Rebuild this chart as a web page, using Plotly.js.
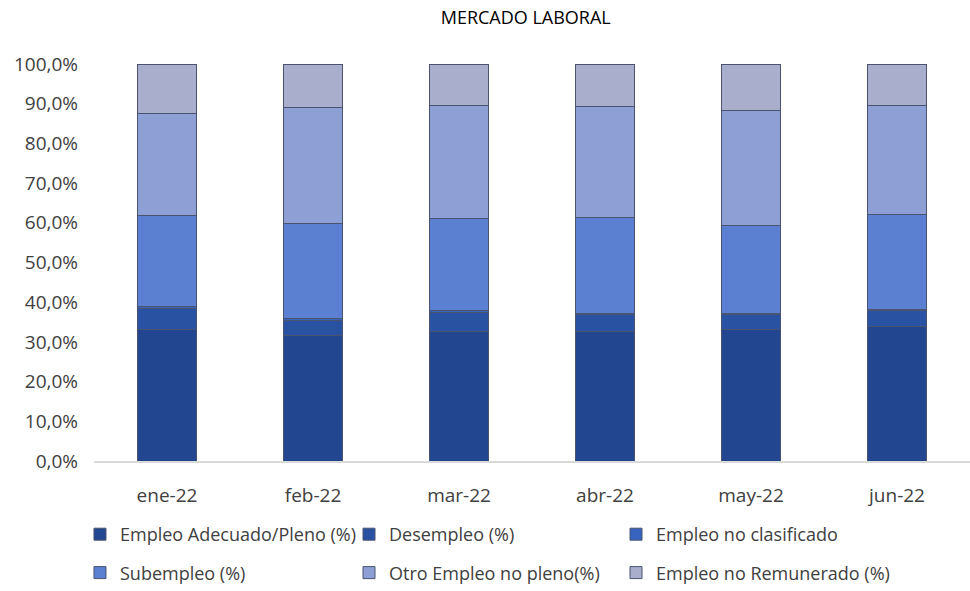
<!DOCTYPE html>
<html>
<head>
<meta charset="utf-8">
<script src="https://cdn.plot.ly/plotly-3.0.1.min.js"></script>
<style>html,body{margin:0;padding:0;background:#fff;}#chart{width:970px;height:591px;}</style>
</head>
<body>
<div id="chart"></div>
<script>
const months = ["ene-22", "feb-22", "mar-22", "abr-22", "may-22", "jun-22"];
const adecuado = [33.0, 31.5, 32.7, 32.5, 33.0, 34.0];
const desempleo = [5.4, 4.0, 4.8, 4.3, 3.8, 3.8];
const noClasificado = [0.5, 0.4, 0.4, 0.4, 0.4, 0.4];
const subempleo = [22.9, 24.0, 23.1, 24.1, 22.1, 23.8];
const otroNoPleno = [25.8, 29.1, 28.5, 27.9, 28.9, 27.6];
const noRemunerado = [12.4, 11.0, 10.5, 10.8, 11.8, 10.4];

const seriesNames = ["Empleo Adecuado/Pleno (%)", "Desempleo (%)", "Empleo no clasificado",
                     "Subempleo (%)", "Otro Empleo no pleno(%)", "Empleo no Remunerado (%)"];
const seriesValues = [adecuado, desempleo, noClasificado, subempleo, otroNoPleno, noRemunerado];
const colors = ["#22468f", "#2a52a3", "#3864bf", "#5b7fd1", "#8d9fd4", "#a8aecb"];
// legend columns: col1 = Adecuado, Subempleo; col2 = Desempleo, Otro; col3 = No clasificado, No remunerado
const legendIds = ["legend", "legend2", "legend3", "legend", "legend2", "legend3"];

const traces = seriesValues.map((vals, i) => ({
  type: "bar",
  name: seriesNames[i],
  x: months,
  y: vals,
  legend: legendIds[i],
  legendgroup: "g" + i,
  marker: {color: colors[i], line: {color: "#4a5470", width: 1}},
  hoverinfo: "skip"
}));

const fam = "Open Sans, Liberation Sans, sans-serif";
const legendCommon = {orientation: "v", xanchor: "left", yanchor: "bottom", y: -0.3275,
  itemwidth: 30, tracegroupgap: 12,
  font: {family: fam, size: 18, color: "#404040"}, itemclick: false, traceorder: "grouped",
  bgcolor: "rgba(0,0,0,0)"};

const layout = {
  width: 970, height: 591,
  paper_bgcolor: "#fff", plot_bgcolor: "#fff",
  barmode: "stack", bargap: 0.6,
  margin: {l: 94, r: 0, t: 64, b: 130},
  title: {text: "MERCADO LABORAL", x: 0.542, xanchor: "center", y: 0.98, yanchor: "top",
          font: {family: fam, size: 18, color: "#000"}},
  font: {family: fam, color: "#404040"},
  xaxis: {showgrid: false, showline: true, linecolor: "#d9d9d9", linewidth: 2, ticks: "",
          ticklabelstandoff: 16, tickfont: {size: 19, color: "#404040"}, fixedrange: true},
  yaxis: {range: [0, 100], dtick: 10, tickformat: ".1f", ticksuffix: "%", showgrid: false,
          zeroline: false, showline: false, ticks: "", ticklabelstandoff: 15,
          tickfont: {size: 19, color: "#404040"}, fixedrange: true},
  separators: ",.",
  legend: Object.assign({}, legendCommon, {x: -0.016}),
  legend2: Object.assign({}, legendCommon, {x: 0.2911}),
  legend3: Object.assign({}, legendCommon, {x: 0.5959}),
  showlegend: true
};

Plotly.newPlot("chart", traces, layout, {displayModeBar: false, staticPlot: true});
</script>
</body>
</html>
